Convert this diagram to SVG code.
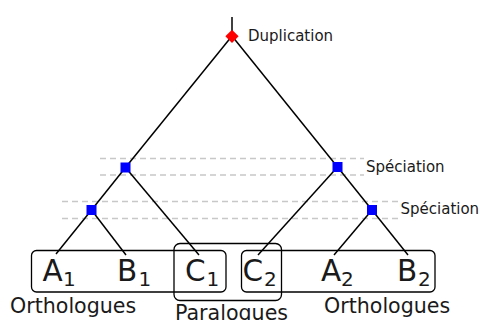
<svg xmlns="http://www.w3.org/2000/svg" width="480" height="320" viewBox="0 0 480 320">
<style>
text{font-family:"DejaVu Sans",sans-serif;fill:#1a1a1a}
.lbl{font-size:15px}
.leaf{font-size:29.5px}
.sub{font-size:20px}
.grp{font-size:20.6px}
.edge{stroke:#000;stroke-width:1.5;fill:none}
.guide{stroke:#c8c8c8;stroke-width:1.5;stroke-dasharray:6,4;fill:none}
.box{stroke:#000;stroke-width:1.3;fill:none}
.spec{fill:#0000ff}
</style>
<rect width="480" height="320" fill="#fff"/>
<g id="guides">
<line class="guide" x1="100" y1="158.5" x2="364" y2="158.5"/>
<line class="guide" x1="100" y1="175" x2="364" y2="175"/>
<line class="guide" x1="62" y1="201.5" x2="398" y2="201.5"/>
<line class="guide" x1="62" y1="218.5" x2="398" y2="218.5"/>
</g>
<g id="connectors">
<line class="edge" x1="232" y1="17" x2="232" y2="36"/>
<line class="edge" x1="232" y1="36" x2="125.5" y2="167.5"/>
<line class="edge" x1="232" y1="36" x2="337.5" y2="167"/>
<line class="edge" x1="125.5" y1="167.5" x2="91.5" y2="210"/>
<line class="edge" x1="125.5" y1="167.5" x2="199" y2="255"/>
<line class="edge" x1="91.5" y1="210" x2="56" y2="254"/>
<line class="edge" x1="91.5" y1="210" x2="126" y2="255"/>
<line class="edge" x1="337.5" y1="167" x2="258" y2="255"/>
<line class="edge" x1="337.5" y1="167" x2="372" y2="210"/>
<line class="edge" x1="372" y1="210" x2="334" y2="255"/>
<line class="edge" x1="372" y1="210" x2="408" y2="255"/>
</g>
<g id="duplication">
<rect x="227.3" y="31.6" width="9.4" height="9.4" fill="#ff0000" transform="rotate(45 232 36.3)"/>
<text class="lbl" x="248" y="40.5">Duplication</text>
</g>
<g id="speciation1">
<rect class="spec" x="120.5" y="162.5" width="10" height="10"/>
</g>
<g id="speciation2">
<rect class="spec" x="332.5" y="162" width="10" height="10"/>
<text class="lbl" x="366" y="172">Spéciation</text>
</g>
<g id="speciation3">
<rect class="spec" x="86.5" y="205" width="10" height="10"/>
</g>
<g id="speciation4">
<rect class="spec" x="367" y="205" width="10" height="10"/>
<text class="lbl" x="400.5" y="214">Spéciation</text>
</g>
<g id="orthologues-left">
<rect class="box" x="31.5" y="250.5" width="194.5" height="41.5" rx="5"/>
<text class="grp" x="10" y="313">Orthologues</text>
</g>
<g id="paralogues">
<rect class="box" x="174" y="243.5" width="107.5" height="57" rx="6"/>
<text class="grp" x="175" y="320">Paralogues</text>
</g>
<g id="orthologues-right">
<rect class="box" x="241.5" y="250.5" width="193.5" height="41.5" rx="5"/>
<text class="grp" x="324" y="312.5">Orthologues</text>
</g>
<g id="A1"><text x="42.5" y="280.7"><tspan class="leaf">A</tspan><tspan class="sub" x="63" y="286">1</tspan></text></g>
<g id="B1"><text x="117" y="280.7"><tspan class="leaf">B</tspan><tspan class="sub" x="138.5" y="286">1</tspan></text></g>
<g id="C1"><text x="185" y="280.7"><tspan class="leaf">C</tspan><tspan class="sub" x="206.5" y="286">1</tspan></text></g>
<g id="C2"><text x="242.5" y="280.7"><tspan class="leaf">C</tspan><tspan class="sub" x="264" y="286">2</tspan></text></g>
<g id="A2"><text x="321" y="280.7"><tspan class="leaf">A</tspan><tspan class="sub" x="341" y="286">2</tspan></text></g>
<g id="B2"><text x="397" y="280.7"><tspan class="leaf">B</tspan><tspan class="sub" x="418" y="286">2</tspan></text></g>
</svg>
